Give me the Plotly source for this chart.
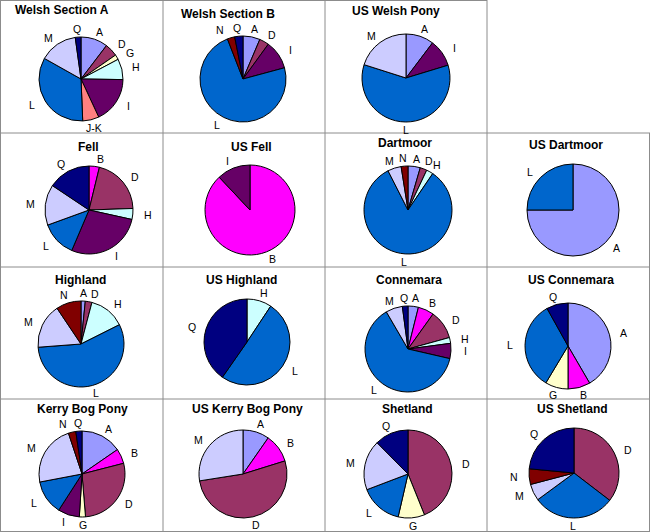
import math
import plotly.graph_objects as go

W, H = 650, 532

# ---- data (percent shares) ----
welsh_a_labels = ["A", "D", "G", "H", "I", "J-K", "L", "M", "Q"]
welsh_a_values = [10.4, 5.0, 1.9, 8.0, 17.9, 6.3, 33.9, 14.7, 2.2]

welsh_b_labels = ["A", "D", "I", "L", "N", "Q"]
welsh_b_values = [6.4, 3.6, 10.8, 73.3, 2.8, 3.1]

us_welsh_labels = ["A", "I", "L", "M"]
us_welsh_values = [10.3, 10.0, 59.6, 20.1]

fell_labels = ["B", "D", "H", "I", "L", "M", "Q"]
fell_values = [3.8, 20.6, 4.0, 27.9, 13.0, 14.9, 15.6]

us_fell_labels = ["B", "I"]
us_fell_values = [88.0, 12.0]

dartmoor_labels = ["A", "D", "H", "L", "M", "N"]
dartmoor_values = [4.5, 2.5, 2.5, 83.0, 5.0, 2.5]

us_dartmoor_labels = ["A", "L"]
us_dartmoor_values = [75.0, 25.0]

highland_labels = ["A", "D", "H", "L", "M", "N"]
highland_values = [1.6, 2.5, 13.5, 56.2, 16.8, 9.4]

us_highland_labels = ["H", "L", "Q"]
us_highland_values = [9.3, 50.4, 40.3]

connemara_labels = ["A", "B", "D", "H", "I", "L", "M", "Q"]
connemara_values = [3.9, 6.0, 10.8, 2.2, 5.7, 63.0, 6.3, 2.1]

us_connemara_labels = ["A", "B", "G", "L", "Q"]
us_connemara_values = [41.6, 8.4, 8.6, 33.3, 8.1]

kerry_labels = ["A", "B", "D", "G", "I", "L", "M", "N", "Q"]
kerry_values = [15.4, 5.6, 27.7, 2.3, 8.1, 12.9, 22.9, 2.8, 2.3]

us_kerry_labels = ["A", "B", "D", "M"]
us_kerry_values = [9.7, 10.5, 52.3, 27.5]

shetland_labels = ["D", "G", "L", "M", "Q"]
shetland_values = [43.9, 9.7, 15.6, 18.4, 12.4]

us_shetland_labels = ["D", "L", "M", "N", "Q"]
us_shetland_values = [35.4, 29.5, 6.0, 5.6, 23.5]

titles = ["Welsh Section A", "Welsh Section B", "US Welsh Pony",
          "Fell", "US Fell", "Dartmoor", "US Dartmoor",
          "Highland", "US Highland", "Connemara", "US Connemara",
          "Kerry Bog Pony", "US Kerry Bog Pony", "Shetland", "US Shetland"]

series = [
    (welsh_a_labels, welsh_a_values), (welsh_b_labels, welsh_b_values),
    (us_welsh_labels, us_welsh_values),
    (fell_labels, fell_values), (us_fell_labels, us_fell_values),
    (dartmoor_labels, dartmoor_values), (us_dartmoor_labels, us_dartmoor_values),
    (highland_labels, highland_values), (us_highland_labels, us_highland_values),
    (connemara_labels, connemara_values), (us_connemara_labels, us_connemara_values),
    (kerry_labels, kerry_values), (us_kerry_labels, us_kerry_values),
    (shetland_labels, shetland_values), (us_shetland_labels, us_shetland_values),
]

# ---- styles / layout ----
COLORS = {
    "A": "#9999FF", "B": "#FF00FF", "D": "#993366", "G": "#FFFFCC",
    "H": "#CCFFFF", "I": "#660066", "J-K": "#FF8080", "L": "#0066CC",
    "M": "#CCCCFF", "N": "#800000", "Q": "#000080",
}
FONT = "Arial, Liberation Sans, sans-serif"

# pie centre (px), radius (px), title centre (px)
placement = [
    ((81, 79), 42, (62, 10)),
    ((243, 79), 43, (228, 14)),
    ((406, 78), 44, (396, 11)),
    ((89, 210), 44, (88, 147)),
    ((250, 210), 45, (251, 147)),
    ((408, 210), 44, (405, 143)),
    ((573, 210), 46, (566, 145)),
    ((81, 344), 43, (80, 280)),
    ((247, 342), 43, (242, 280)),
    ((408, 349), 43, (409, 280)),
    ((568, 346), 43, (571, 280)),
    ((82, 474), 43, (82, 409)),
    ((243, 474), 44, (247, 409)),
    ((408, 474), 44, (407, 409)),
    ((574, 473), 45, (572, 409)),
]
# small label nudges (chart index, label) -> (dx, dy) px
label_nudge = {(1, "N"): (-7, 0), (11, "N"): (-6, 0), (3, "B"): (4, 1),
               (7, "D"): (4, 0)}

fig = go.Figure()
annotations = []
for k, ((labels, values), ((cx, cy), r, (tx, ty)), title) in enumerate(zip(series, placement, titles)):
    fig.add_trace(go.Pie(
        labels=labels, values=values, sort=False, direction="clockwise",
        rotation=0, textinfo="none",
        marker=dict(colors=[COLORS[l] for l in labels], line=dict(color="black", width=1)),
        domain=dict(x=[(cx - r) / W, (cx + r) / W], y=[1 - (cy + r) / H, 1 - (cy - r) / H]),
        showlegend=False, hoverinfo="label+percent",
    ))
    annotations.append(dict(
        text=f"<b>{title}</b>", x=tx / W, y=1 - ty / H, xref="paper", yref="paper",
        xanchor="center", yanchor="middle", showarrow=False,
        font=dict(family=FONT, size=12, color="black"),
    ))
    # slice labels placed outside, on each slice's bisector
    total = float(sum(values))
    acc = 0.0
    for lab, v in zip(labels, values):
        mid = (acc + v / 2) / total * 2 * math.pi
        acc += v
        dx, dy = label_nudge.get((k, lab), (0, 0))
        lx = cx + (r + 15) * math.sin(mid) + dx
        ly = cy - (r + 8) * math.cos(mid) + dy
        annotations.append(dict(
            text=lab, x=lx / W, y=1 - ly / H, xref="paper", yref="paper",
            xanchor="center", yanchor="middle", showarrow=False,
            font=dict(family=FONT, size=10.5, color="black"),
        ))

line_col = "#8c8c8c"
shapes = []
def seg(x0, y0, x1, y1):
    shapes.append(dict(type="line", xref="paper", yref="paper",
                       x0=x0 / W, y0=1 - y0 / H, x1=x1 / W, y1=1 - y1 / H,
                       line=dict(color=line_col, width=1)))

for x in (163, 325, 487):
    seg(x, 0, x, H)
seg(0.5, 0, 0.5, H)
seg(W - 0.5, 133, W - 0.5, H)
seg(0, 0.5, 487, 0.5)
seg(0, H - 0.5, W, H - 0.5)
for y in (133, 267, 399):
    seg(0, y, W, y)

fig.update_layout(
    width=W, height=H, margin=dict(l=0, r=0, t=0, b=0),
    paper_bgcolor="white", plot_bgcolor="white",
    annotations=annotations, shapes=shapes,
)

fig.write_html("out.html", config={"displayModeBar": False},
               post_script="document.body.style.margin='0';")
